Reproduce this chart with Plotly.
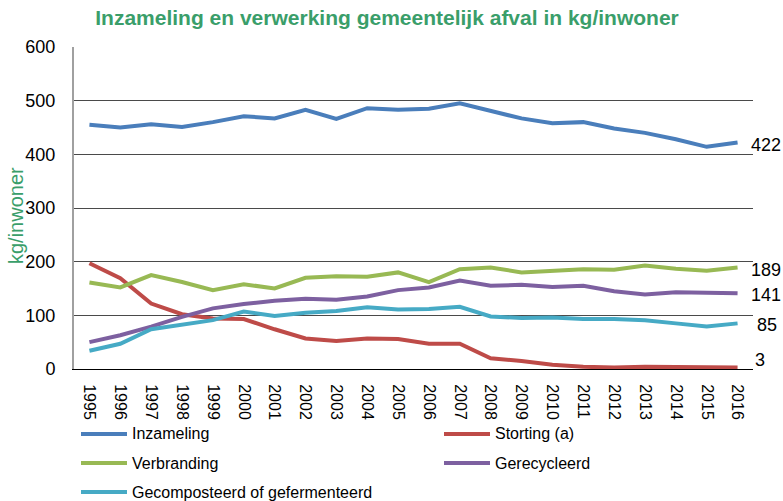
import plotly.graph_objects as go

years = [str(y) for y in range(1995, 2017)]
inzameling = [455, 450, 456, 451, 460, 471, 467, 483, 466, 486, 483, 485, 495, 481, 467, 458, 460, 448, 440, 428, 414, 422]
storting = [197, 169, 122, 102, 94, 93, 74, 57, 52, 57, 56, 47, 47, 20, 15, 8, 4, 3, 4, 4, 4, 3]
verbranding = [161, 152, 175, 162, 147, 158, 150, 170, 173, 172, 180, 162, 186, 189, 180, 183, 186, 185, 193, 187, 183, 189]
gerecycleerd = [50, 63, 79, 97, 113, 121, 127, 131, 129, 135, 147, 152, 165, 155, 157, 153, 155, 145, 139, 143, 142, 141]
gecomposteerd = [34, 47, 74, 82, 91, 107, 99, 105, 108, 115, 111, 112, 116, 98, 95, 96, 93, 93, 91, 85, 79, 85]
end_labels = ["422", "3", "189", "141", "85"]

names = ["Inzameling", "Storting (a)", "Verbranding", "Gerecycleerd", "Gecomposteerd of gefermenteerd"]
series = [inzameling, storting, verbranding, gerecycleerd, gecomposteerd]
colors = ["#4a7ebb", "#be4b48", "#98b954", "#7d60a0", "#46aac5"]

# layout geometry (page pixels; page body margin is removed below)
FW, FH = 783, 501
PL, PR, PT, PB = 74, 753, 47, 369  # plot area
W, H = PR - PL, PB - PT


def px(xp):
    return (xp - PL) / W


def py(yp):
    return (PB - yp) / H


FONT = "Liberation Sans, Arial, sans-serif"
GREEN = "#3a9e6a"

fig = go.Figure()
for name, vals, col in zip(names, series, colors):
    fig.add_trace(go.Scatter(x=years, y=vals, mode="lines", name=name,
                             line=dict(color=col, width=4), showlegend=False))

# end-of-line value labels
label_yshift = [-2, 7, -2, -2, -2]
label_xc = [766, 760, 766, 766, 767]
for vals, lab, ys, xc in zip(series, end_labels, label_yshift, label_xc):
    fig.add_annotation(x=px(xc), xref="paper", y=vals[-1], yref="y", text=lab,
                       showarrow=False, xanchor="center", yanchor="middle",
                       yshift=ys, font=dict(family=FONT, size=18, color="#000"))

# manual legend (two columns)
leg_pos = [(81, 434), (444, 434), (81, 463), (444, 463), (81, 492)]
for name, col, (lx, ly) in zip(names, colors, leg_pos):
    fig.add_shape(type="line", xref="paper", yref="paper",
                  x0=px(lx), x1=px(lx + 46), y0=py(ly), y1=py(ly),
                  line=dict(color=col, width=4))
    fig.add_annotation(x=px(lx + 49), xref="paper", y=py(ly), yref="paper",
                       text=name, showarrow=False, xanchor="left", yanchor="middle",
                       font=dict(family=FONT, size=16, color="#000"))

# y-axis title
fig.add_annotation(x=px(16), xref="paper", y=py(216), yref="paper",
                   text="kg/inwoner", textangle=-90, showarrow=False,
                   xanchor="center", yanchor="middle",
                   font=dict(family=FONT, size=20, color=GREEN))

fig.update_layout(
    width=FW, height=FH,
    margin=dict(l=PL, r=FW - PR, t=PT, b=FH - PB),
    paper_bgcolor="white", plot_bgcolor="white",
    title=dict(text="<b>Inzameling en verwerking gemeentelijk afval in kg/inwoner</b>",
               x=387 / FW, xanchor="center", y=1 - 18 / FH, yanchor="middle",
               font=dict(family=FONT, size=21, color=GREEN)),
    font=dict(family=FONT, color="#000"),
    xaxis=dict(type="category", range=[-0.5, 21.5], tickangle=90,
               tickfont=dict(size=16), showgrid=False, showline=True,
               linecolor="#000", linewidth=1, ticks="outside", ticklen=11,
               tickcolor="rgba(0,0,0,0)", zeroline=False, automargin=False),
    yaxis=dict(range=[0, 600], dtick=100, tickfont=dict(size=18),
               showgrid=True, gridcolor="#4a4a4a", gridwidth=1,
               showline=True, linecolor="#a0a0a0", linewidth=2,
               ticks="outside", ticklen=13, tickcolor="rgba(0,0,0,0)",
               zeroline=False, automargin=False),
    showlegend=False,
)

fig.write_html(
    "out.html",
    config={"displayModeBar": False, "staticPlot": True},
    post_script="document.body.style.margin='0';document.body.style.overflow='hidden';",
)
